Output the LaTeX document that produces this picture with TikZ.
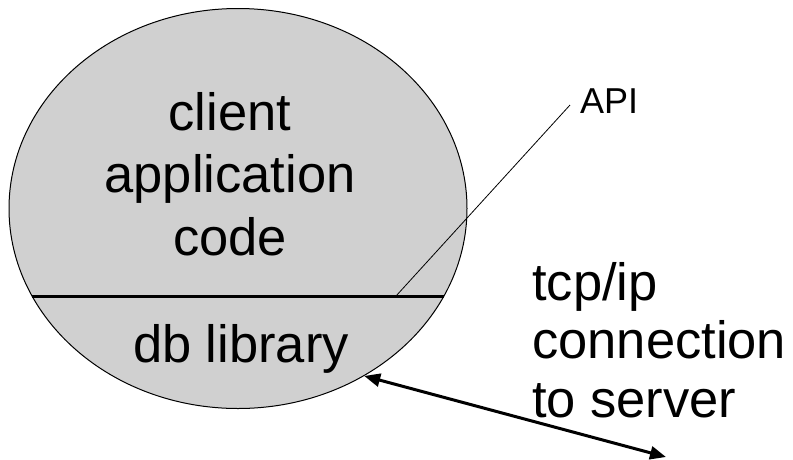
\documentclass[tikz,border=0pt]{standalone}
\usepackage{fontspec}
\setmainfont{Liberation Sans}
\usetikzlibrary{shapes.geometric,arrows.meta}
\definecolor{bubblegray}{RGB}{208,208,208}
\tikzset{
  bubble/.style={ellipse, draw, line width=1pt, fill=bubblegray,
    minimum width=458pt, minimum height=400pt, inner sep=0pt},
  bigtext/.style={font=\fontsize{52.5}{62.5}\selectfont, inner sep=0pt},
  sidetext/.style={font=\fontsize{52.5}{58.5}\selectfont, inner sep=0pt},
  smalltext/.style={font=\fontsize{36}{40}\selectfont, inner sep=0pt},
  layer/.style={line width=3pt},
  leader/.style={line width=0.8pt},
  link/.style={line width=3pt,
    {Triangle[length=16pt,width=13pt]}-{Triangle[length=16pt,width=13pt]}},
}
\begin{document}
\begin{tikzpicture}[x=1pt,y=-1pt]
  \useasboundingbox (0,0) rectangle (793,459);

  % client process
  \node[bubble] (bubble) at (238,208.5) {};

  % boundary between application code and library
  \draw[layer] (bubble.203) -- (bubble.-23);

  % multi-line nodes sit on the baseline of their last line
  \node[bigtext, align=center, anchor=base] (app) at (230,255)
    {client\\application\\code};
  \node[bigtext, anchor=base] (db) at (241,362) {db library};

  % API label with leader line
  \coordinate (apitap) at (396,296);
  \coordinate (apiend) at (570,105);
  \node[smalltext, anchor=base west] (api) at (580,113) {API};
  \draw[leader] (apitap) -- (apiend);

  % network link
  \node[sidetext, align=left, anchor=base west] (tcp) at (532,417)
    {tcp/ip\\connection\\to server};
  \coordinate (server) at (666,457);
  \draw[link] (bubble.-53.2) -- (server);
\end{tikzpicture}
\end{document}
